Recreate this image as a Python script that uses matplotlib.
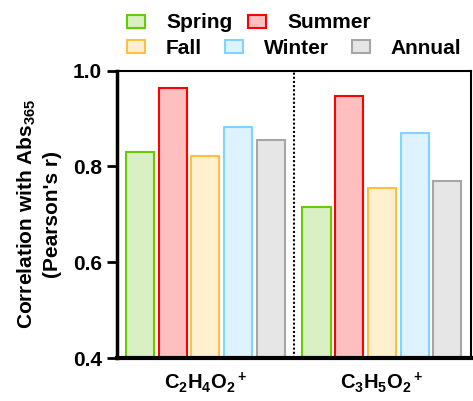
import matplotlib
matplotlib.use("Agg")
import matplotlib.pyplot as plt
import numpy as np

plt.rcParams["font.family"] = ["Liberation Sans", "DejaVu Sans"]
plt.rcParams["font.weight"] = "bold"
plt.rcParams["mathtext.fontset"] = "custom"
plt.rcParams["mathtext.rm"] = "Liberation Sans:bold"
plt.rcParams["mathtext.it"] = "Liberation Sans:bold"
plt.rcParams["mathtext.bf"] = "Liberation Sans:bold"
plt.rcParams["mathtext.default"] = "rm"

# data
ions = ["C$_2$H$_4$O$_2$$^+$", "C$_3$H$_5$O$_2$$^+$"]
seasons = ["Spring", "Summer", "Fall", "Winter", "Annual"]
spring = [0.830, 0.715]
summer = [0.964, 0.947]
fall = [0.821, 0.754]
winter = [0.883, 0.869]
annual = [0.854, 0.769]

faces = ["#d9f0c2", "#ffbfbf", "#fff0cf", "#ddf3ff", "#e6e6e6"]
edges = ["#66cc00", "#ff0000", "#ffbf40", "#80d4ff", "#a6a6a6"]

series = [spring, summer, fall, winter, annual]
group_gap = 5.4
width = 0.86

fig = plt.figure(figsize=(4.73, 4.01), dpi=100)
ax = fig.add_axes([117 / 473, 43 / 401, 353.5 / 473, 287.5 / 401])

bars = []
for i, vals in enumerate(series):
    x = np.arange(len(ions)) * group_gap + i
    b = ax.bar(x, np.array(vals) - 0.4, bottom=0.4, width=width,
               color=faces[i], edgecolor=edges[i], linewidth=1.5,
               label=seasons[i], zorder=2)
    bars.append(b)

ax.axvline(4.71, color="black", linestyle=(0, (1, 1)), linewidth=1.5, zorder=3)

ax.set_xlim(-0.70, 10.11)
ax.set_ylim(0.4, 1.0)
ax.set_yticks([0.4, 0.6, 0.8, 1.0])
ax.set_yticklabels(["0.4", "0.6", "0.8", "1.0"])
ax.set_xticks(np.arange(len(ions)) * group_gap + 2)
ax.set_xticklabels(ions, fontsize=14.5)
ax.tick_params(axis="x", length=0, pad=9)
ax.tick_params(axis="y", length=7, width=2, labelsize=15, pad=4)

ax.spines["left"].set_linewidth(2.5)
ax.spines["bottom"].set_linewidth(3)
ax.spines["bottom"].set_zorder(4)
ax.spines["top"].set_linewidth(1.5)
ax.spines["right"].set_linewidth(1.5)

ax.set_ylabel("Correlation with Abs$_{365}$\n(Pearson's r)", fontsize=15,
              fontweight="bold", linespacing=1.3)
ax.yaxis.set_label_coords(-0.156, 0.5)

leg_kw = dict(frameon=False, fontsize=15, handlelength=0.87, handleheight=0.58,
              handletextpad=1.0, borderpad=0,
              borderaxespad=0, loc="center left", bbox_transform=fig.transFigure)
leg1 = ax.legend(bars[:2], seasons[:2], ncol=2, columnspacing=0.77,
                 bbox_to_anchor=(127 / 473, 1 - 23 / 401), **leg_kw)
ax.add_artist(leg1)
ax.legend(bars[2:], seasons[2:], ncol=3, columnspacing=1.1,
          bbox_to_anchor=(127 / 473, 1 - 48 / 401), **leg_kw)

fig.savefig("out.png", dpi=100)
